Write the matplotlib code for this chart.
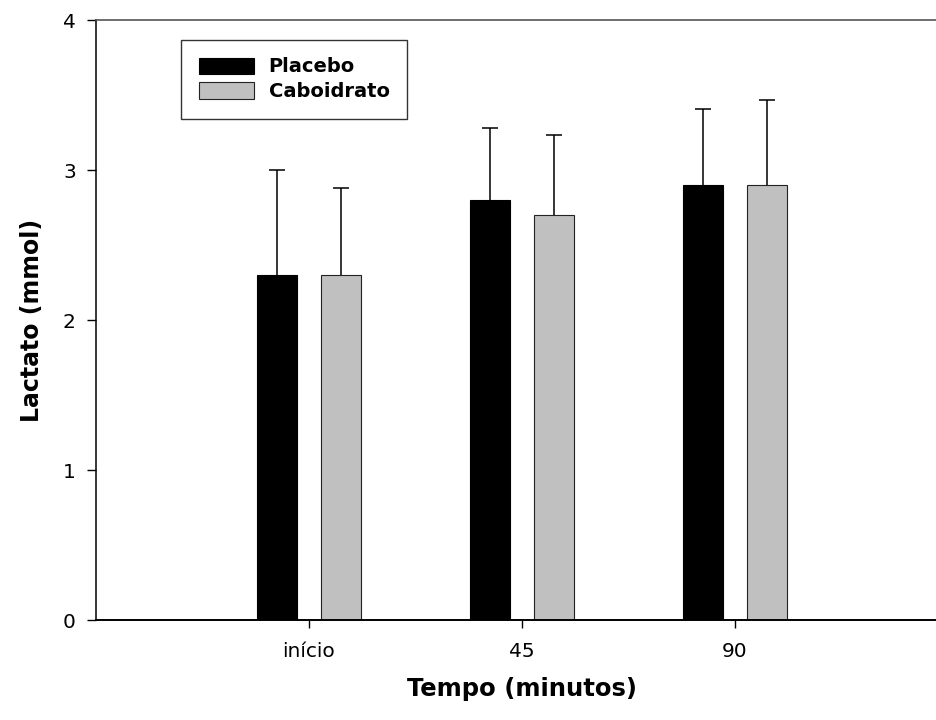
import numpy as np
import matplotlib.pyplot as plt

# tempo e lactato (mmol)
categorias = ['início', '45', '90']
placebo = [2.3, 2.8, 2.9]
placebo_err = [0.70, 0.48, 0.51]
carbo = [2.3, 2.7, 2.9]
carbo_err = [0.58, 0.53, 0.57]

plt.rcParams['font.family'] = ['DejaVu Sans']

fig = plt.figure(figsize=(9.36, 7.2), dpi=100)
ax = fig.add_axes([96/936, 1 - 620/720, 852/936, 600/720])

x = np.arange(1, len(categorias) + 1)
w = 0.187
off = 0.149

ax.bar(x - off, placebo, w, color='black', edgecolor='black', linewidth=0.8,
       label='Placebo', zorder=2)
ax.bar(x + off, carbo, w, color='#c0c0c0', edgecolor='#222222', linewidth=0.8,
       label='Caboidrato', zorder=2)

# so a barra de erro para cima
zeros = np.zeros(len(x))
for pos, vals, errs in [(x - off, placebo, placebo_err), (x + off, carbo, carbo_err)]:
    eb = ax.errorbar(pos, vals, yerr=[zeros, errs], fmt='none',
                     ecolor='black', elinewidth=1.1, capsize=6, capthick=1.1,
                     zorder=3)
    for cap in eb[1]:
        if np.allclose(cap.get_ydata(), vals):
            cap.set_visible(False)

ax.set_xlim(0, 4)
ax.set_ylim(0, 4)
ax.set_xticks(x)
ax.set_xticklabels(categorias)
ax.set_yticks([0, 1, 2, 3, 4])

ax.spines['right'].set_visible(False)
ax.spines['top'].set_color('#555555')
ax.spines['top'].set_linewidth(1.2)
ax.spines['bottom'].set_linewidth(1.4)
ax.spines['left'].set_linewidth(1.1)

ax.tick_params(axis='y', direction='out', length=6.5, width=1.0, pad=8,
               labelsize=14.5)
ax.tick_params(axis='x', direction='out', length=6, width=1.0, pad=10,
               labelsize=14.5)

ax.set_xlabel('Tempo (minutos)', fontsize=17.5, fontweight='bold')
ax.xaxis.set_label_coords(0.5, -0.095)
ax.set_ylabel('Lactato (mmol)', fontsize=17, fontweight='bold', labelpad=14)

leg = ax.legend(loc='upper left', bbox_to_anchor=(85/852, 580/600),
                borderaxespad=0, fancybox=False, frameon=True,
                prop={'size': 14, 'weight': 'bold'},
                handlelength=2.83, handleheight=0.93, handletextpad=0.77,
                labelspacing=0.3, borderpad=0.9)
leg.get_frame().set_edgecolor('black')
leg.get_frame().set_linewidth(1.0)

fig.savefig('out.png', dpi=100)
